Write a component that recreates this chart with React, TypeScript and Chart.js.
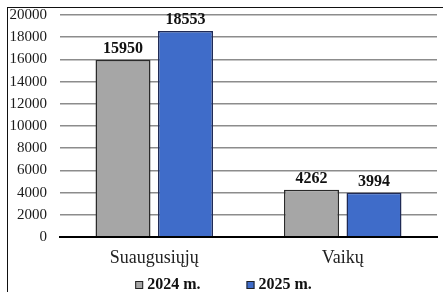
import React, { useEffect, useRef } from "react";
import { Chart, registerables } from "chart.js";

Chart.register(...registerables);

const categories = ["Suaugusiųjų", "Vaikų"];
const seriesLabels = ["2024 m.", "2025 m."];
const values2024 = [15950, 4262];
const values2025 = [18553, 3994];
const seriesColors = ["#a6a6a6", "#3f6cc9"];

const SERIF = "Liberation Serif";

const dataLabelPlugin = {
  id: "dataLabels",
  afterDatasetsDraw(chart: any) {
    const ctx = chart.ctx;
    ctx.save();
    ctx.font = `bold 16px "${SERIF}"`;
    ctx.fillStyle = "#111";
    ctx.textAlign = "center";
    ctx.textBaseline = "bottom";
    chart.data.datasets.forEach((ds: any, di: number) => {
      const meta = chart.getDatasetMeta(di);
      meta.data.forEach((bar: any, i: number) => {
        ctx.fillText(String(ds.data[i]), bar.x, bar.y - 3);
      });
    });
    ctx.restore();
  },
};

const legendPlugin = {
  id: "customLegend",
  afterDraw(chart: any) {
    const ctx = chart.ctx;
    ctx.save();
    ctx.font = `bold 16px "${SERIF}"`;
    ctx.textBaseline = "middle";
    ctx.textAlign = "left";
    const box = 8;
    const gapBoxText = 4;
    const gapItems = 46;
    const items = chart.data.datasets.map((ds: any) => ({
      text: ds.label,
      color: ds.backgroundColor,
      w: box + gapBoxText + ctx.measureText(ds.label).width,
    }));
    const total = items.reduce((s: number, it: any) => s + it.w, 0) + gapItems * (items.length - 1);
    let x = (chart.width - total) / 2 + 2;
    const y = 285;
    items.forEach((it: any) => {
      ctx.fillStyle = it.color;
      ctx.fillRect(x, y - box / 2, box, box);
      ctx.strokeStyle = "#222";
      ctx.lineWidth = 1;
      ctx.strokeRect(x + 0.5, y - box / 2 + 0.5, box - 1, box - 1);
      ctx.fillStyle = "#111";
      ctx.fillText(it.text, x + box + gapBoxText, y);
      x += it.w + gapItems;
    });
    ctx.restore();
  },
};

export default function App() {
  const ref = useRef<HTMLCanvasElement>(null);
  useEffect(() => {
    if (!ref.current) return;
    const chart = new Chart(ref.current, {
      type: "bar",
      data: {
        labels: categories,
        datasets: [
          {
            label: seriesLabels[0],
            data: values2024,
            backgroundColor: seriesColors[0],
            borderColor: "#2a2a2a",
            borderWidth: 1.5,
            categoryPercentage: 0.663,
            barPercentage: 0.88,
          },
          {
            label: seriesLabels[1],
            data: values2025,
            backgroundColor: seriesColors[1],
            borderColor: "#1f2a55",
            borderWidth: 1.5,
            categoryPercentage: 0.663,
            barPercentage: 0.88,
          },
        ],
      },
      options: {
        animation: false,
        responsive: false,
        maintainAspectRatio: false,
        layout: { padding: { left: 0, right: 6, top: 15, bottom: 0 } },
        plugins: {
          legend: { display: false },
          tooltip: { enabled: false },
        },
        scales: {
          x: {
            grid: { display: false, drawTicks: false },
            border: { display: true, color: "#000", width: 2 },
            ticks: {
              color: "#222",
              padding: 10,
              font: { family: SERIF, size: 18 },
            },
            afterFit(scale: any) {
              scale.height = 55;
              scale.paddingLeft = 0;
              scale.paddingRight = 0;
            },
          },
          y: {
            min: 0,
            max: 20000,
            grid: {
              drawTicks: false,
              color: (c: any) => (c.tick && c.tick.value === 0 ? "#000" : "#8c8c8c"),
              lineWidth: (c: any) => (c.tick && c.tick.value === 0 ? 2 : 1.5),
            },
            border: { display: false },
            ticks: {
              stepSize: 2000,
              color: "#1a1a1a",
              padding: 13,
              font: { family: SERIF, size: 15 },
              callback: (v: any) => String(v),
            },
            afterFit(scale: any) {
              scale.width = 60;
              scale.paddingTop = 0;
              scale.paddingBottom = 0;
            },
          },
        },
      },
      plugins: [dataLabelPlugin, legendPlugin],
    });
    return () => chart.destroy();
  }, []);

  return (
    <div style={{ position: "fixed", left: 0, top: 0, width: 443, height: 292, background: "#fff" }}>
      <div
        style={{
          position: "absolute",
          left: 7,
          top: 7,
          right: 0,
          bottom: 0,
          borderLeft: "1.5px solid #111",
          borderTop: "1.5px solid #111",
        }}
      />
      <canvas ref={ref} width={443} height={292} style={{ position: "absolute", left: 0, top: 0 }} />
    </div>
  );
}
